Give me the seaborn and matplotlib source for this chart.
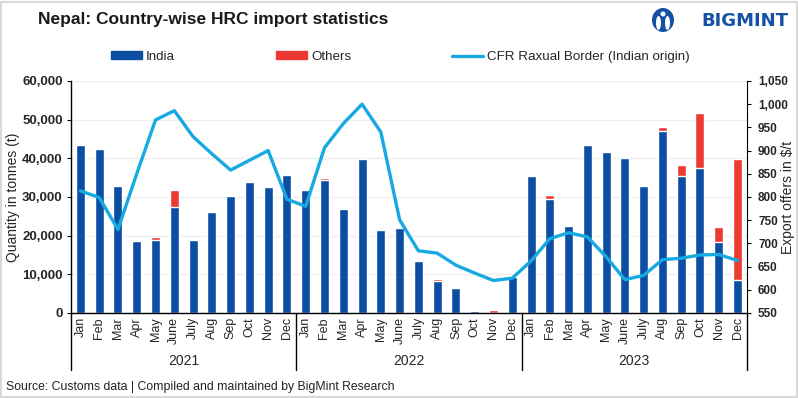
import numpy as np
import pandas as pd
import matplotlib
matplotlib.use("Agg")
import matplotlib.pyplot as plt
import seaborn as sns
from matplotlib.lines import Line2D
from matplotlib.patches import Patch, Rectangle, Ellipse

# data
years = ["2021", "2022", "2023"]
months = ["Jan", "Feb", "Mar", "Apr", "May", "June", "July", "Aug", "Sep", "Oct", "Nov", "Dec"]

india = [43400, 42500, 32900, 18700, 18900, 27300, 19000, 26200, 30300, 34000, 32700, 35600,
         31700, 34500, 26900, 39800, 21500, 22100, 13400, 8300, 6500, 400, 0, 9400,
         35400, 29400, 22600, 43500, 41500, 40200, 32800, 47000, 35300, 37500, 18400, 8500]
others = [300, 0, 0, 0, 700, 4400, 0, 0, 0, 0, 0, 300,
          0, 300, 0, 0, 0, 0, 0, 500, 0, 0, 900, 100,
          300, 1100, 0, 300, 0, 100, 0, 1200, 2900, 14100, 3900, 31400]
cfr_price = [813, 799, 730, 850, 966, 986, 930, 893, 858, 879, 900, 795,
             780, 906, 958, 1000, 940, 751, 684, 679, 653, 636, 620, 625,
             662, 710, 723, 714, 671, 622, 631, 665, 668, 675, 676, 663]

BLUE = "#0b4ea2"
RED = "#ec3a32"
LINE = "#17a9e1"
LOGO = "#1450a3"
W, H = 798, 398


def build_frame():
    keys = [f"{y}-{m}" for y in years for m in months]
    df = pd.DataFrame({"key": keys, "india": india, "others": others, "price": cfr_price})
    df["total"] = df["india"] + df["others"]
    df["pos"] = np.arange(len(df))
    return df


def draw_logo(fig):
    # rough stand-in for the BigMint mark
    cx, cy = 663 / W, 1 - 20 / H
    fig.add_artist(Ellipse((cx, cy), 22 / W, 24 / H, transform=fig.transFigure,
                           facecolor=LOGO, edgecolor="none"))
    for dx in (-4.5, 4.5):
        fig.add_artist(Ellipse((cx + dx / W, cy - 3 / H), 5 / W, 14 / H, transform=fig.transFigure,
                               facecolor="white", edgecolor="none"))
    fig.add_artist(Ellipse((cx, cy + 6 / H), 5 / W, 5 / H, transform=fig.transFigure,
                           facecolor="white", edgecolor="none"))
    fig.text(0.988, 1 - 21 / H, "BIGMINT", fontsize=13, fontweight="bold", color=LOGO,
             va="center", ha="right", family="DejaVu Sans")


def draw_chart(df):
    sns.set_style("white")
    plt.rcParams["font.family"] = ["Liberation Sans", "DejaVu Sans"]

    fig = plt.figure(figsize=(7.98, 3.98), dpi=100)
    ax = fig.add_axes([0.089, 0.2136, 0.847, 0.583])

    # stacked bars: total in red, India on top of it in blue
    sns.barplot(data=df, x="key", y="total", color=RED, width=0.48, saturation=1, ax=ax)
    sns.barplot(data=df, x="key", y="india", color=BLUE, width=0.48, saturation=1, ax=ax)

    ax.set_xlim(-0.5, 35.5)
    ax.set_ylim(0, 60000)
    ax.set_yticks(np.arange(0, 60001, 10000))
    ax.set_yticklabels([f"{v:,}" for v in range(0, 60001, 10000)], fontweight="bold", fontsize=9.5)
    ax.yaxis.grid(True, color="#efefef", linewidth=1)
    ax.set_axisbelow(True)
    ax.set_ylabel("")
    ax.set_xlabel("")
    ax.set_xticks(df["pos"])
    ax.set_xticklabels(months * 3, rotation=90, fontsize=9)
    ax.tick_params(axis="x", length=0, pad=3)
    ax.tick_params(axis="y", length=3, color="black", left=True, pad=3)
    for side in ["left", "bottom"]:
        ax.spines[side].set_color("black")
        ax.spines[side].set_linewidth(1)
    ax.spines["top"].set_visible(False)
    ax.spines["right"].set_visible(False)

    ax2 = ax.twinx()
    sns.lineplot(data=df, x="pos", y="price", color=LINE, linewidth=2.4, ax=ax2)
    ax2.set_ylim(550, 1050)
    ax2.set_yticks(np.arange(550, 1051, 50))
    ax2.set_yticklabels([f"{v:,}" for v in range(550, 1051, 50)], fontweight="bold", fontsize=8.5)
    ax2.set_ylabel("")
    ax2.set_xlim(-0.5, 35.5)
    ax2.set_xlabel("")
    ax2.tick_params(axis="y", length=3, color="black", right=True, pad=5)
    ax2.spines["right"].set_color("black")
    ax2.spines["top"].set_visible(False)
    ax2.spines["left"].set_visible(False)
    ax2.spines["bottom"].set_visible(False)

    # axis titles placed by hand so they sit where the reference has them
    mid = 1 - 197 / H
    fig.text(13 / W, mid, "Quantity in tonnes (t)", rotation=90, ha="center", va="center", fontsize=10)
    fig.text(788 / W, mid, "Export offers in $/t", rotation=90, ha="center", va="center",
             fontsize=10)

    # year grouping under the month labels
    trans = ax.get_xaxis_transform()
    for x in [-0.5, 11.5, 23.5, 35.5]:
        ax.add_line(Line2D([x, x], [0, -0.245], transform=trans, color="black",
                           linewidth=1, clip_on=False))
    for i, y in enumerate(years):
        ax.text(5.5 + 12 * i, -0.205, y, transform=trans, ha="center", va="center", fontsize=10)

    # legend
    handles = [Patch(color=BLUE, label="India"), Patch(color=RED, label="Others"),
               Line2D([0], [0], color=LINE, linewidth=2.4, label="CFR Raxual Border (Indian origin)")]
    fig.legend(handles=handles, loc="center", bbox_to_anchor=(0.502, 0.857), ncol=3, frameon=False,
               fontsize=9.6, handlelength=2.3, handleheight=0.5, columnspacing=7.6, handletextpad=0.3)

    fig.text(0.048, 0.952, "Nepal: Country-wise HRC import statistics", fontsize=12.5,
             fontweight="bold", va="center", ha="left", color="#1a1a1a")
    fig.text(0.007, 0.028, "Source: Customs data | Compiled and maintained by BigMint Research",
             fontsize=8.8, va="center", ha="left", color="#222222")
    draw_logo(fig)

    fig.add_artist(Rectangle((0.001, 0.002), 0.998, 0.993, transform=fig.transFigure,
                             fill=False, edgecolor="#d9d9d9", linewidth=1.5))

    fig.savefig("out.png", dpi=100)


def main():
    df = build_frame()
    draw_chart(df)


if __name__ == "__main__":
    main()
